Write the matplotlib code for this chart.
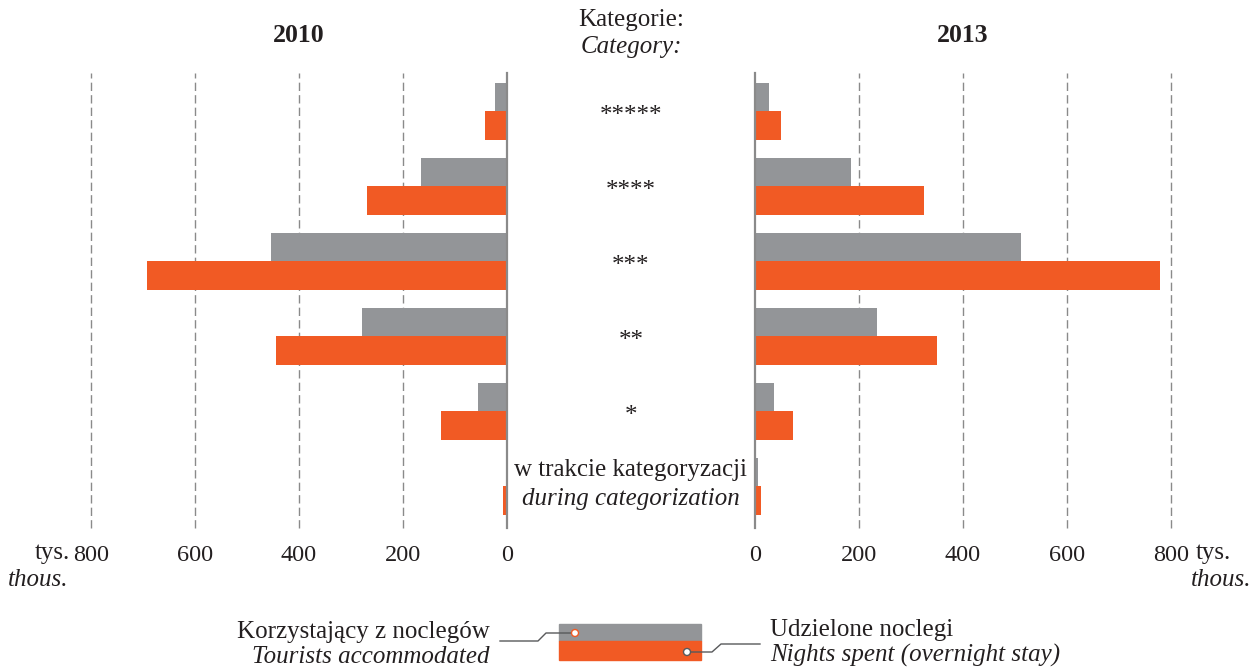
import matplotlib.pyplot as plt
from matplotlib.patches import Rectangle, Circle
from matplotlib.lines import Line2D

plt.rcParams['font.family'] = ['Liberation Serif', 'DejaVu Serif']

categories = ['*****', '****', '***', '**', '*', '']
tourists_2010 = [23, 165, 454, 279, 56, 2]
nights_2010 = [42, 269, 692, 444, 127, 8]
tourists_2013 = [27, 185, 512, 235, 37, 6]
nights_2013 = [50, 325, 779, 350, 73, 12]
ticks = [0, 200, 400, 600, 800]

GRAY = '#939598'
ORANGE = '#F15A24'
TXT = '#231F20'
FS = 18

W, H = 1253, 668
fig = plt.figure(figsize=(W / 100, H / 100), dpi=100)

def px(x0, y0, x1, y1):
    return [x0 / W, 1 - y1 / H, (x1 - x0) / W, (y1 - y0) / H]

ax_l = fig.add_axes(px(91, 73, 507, 528))
ax_r = fig.add_axes(px(755, 73, 1171, 528))

ys = list(range(len(categories)))
bh = 0.38
for ax, t, n, inv in [(ax_l, tourists_2010, nights_2010, True),
                      (ax_r, tourists_2013, nights_2013, False)]:
    ax.barh([y - bh / 2 for y in ys], t, height=bh, color=GRAY, zorder=2)
    ax.barh([y + bh / 2 for y in ys], n, height=bh, color=ORANGE, zorder=2)
    for g in ticks[1:]:
        ax.axvline(g, color='#8a8a8a', lw=1, ls=(0, (6, 3)), zorder=1, clip_on=False)
    ax.axvline(0, color='#8a8a8a', lw=1.6, zorder=3, clip_on=False)
    ax.set_ylim(5.56, -0.507)
    if inv:
        ax.set_xlim(800, 0)
    else:
        ax.set_xlim(0, 800)
    ax.set_xticks(ticks)
    ax.set_xticklabels([str(v) for v in ticks], fontsize=17.5, color=TXT)
    ax.tick_params(axis='x', length=0, pad=12)
    ax.set_yticks([])
    for s in ax.spines.values():
        s.set_visible(False)
    ax.patch.set_alpha(0)

def ftext(x, y, s, **kw):
    kw.setdefault('fontsize', FS)
    kw.setdefault('color', TXT)
    fig.text(x / W, 1 - y / H, s, va='center', **kw)

ftext(299, 35, '2010', ha='center', fontweight='bold', fontsize=18.5)
ftext(963, 35, '2013', ha='center', fontweight='bold', fontsize=18.5)
ftext(631, 20, 'Kategorie:', ha='center')
ftext(631, 47, 'Category:', ha='center', style='italic')

for i, c in enumerate(categories[:-1]):
    ftext(631, 111 + 75 * i + 5, c, ha='center')
ftext(631, 470, 'w trakcie kategoryzacji', ha='center')
ftext(631, 499, 'during categorization', ha='center', style='italic')

ftext(70, 553, 'tys.', ha='right')
ftext(68, 580, 'thous.', ha='right', style='italic')
ftext(1196, 553, 'tys.', ha='left')
ftext(1251, 580, 'thous.', ha='right', style='italic')

# legend
lg = fig.add_axes([0, 0, 1, 1])
lg.set_xlim(0, W)
lg.set_ylim(H, 0)
lg.axis('off')
lg.add_patch(Rectangle((559, 624), 142, 17, color=GRAY))
lg.add_patch(Rectangle((559, 641), 142, 19, color=ORANGE))
lg.add_line(Line2D([500, 538, 546, 572], [641, 641, 633, 633], color='#58595B', lw=1))
lg.add_line(Line2D([690, 712, 721, 760], [652, 652, 644, 644], color='#58595B', lw=1))
lg.add_patch(Circle((575, 633), 3.5, facecolor='white', edgecolor=ORANGE, lw=1, zorder=5))
lg.add_patch(Circle((687, 652), 3.5, facecolor='white', edgecolor='#58595B', lw=1, zorder=5))
ftext(490, 632, 'Korzystający z noclegów', ha='right')
ftext(490, 657, 'Tourists accommodated', ha='right', style='italic')
ftext(770, 630, 'Udzielone noclegi', ha='left')
ftext(770, 655, 'Nights spent (overnight stay)', ha='left', style='italic')

fig.savefig('out.png', dpi=100)
